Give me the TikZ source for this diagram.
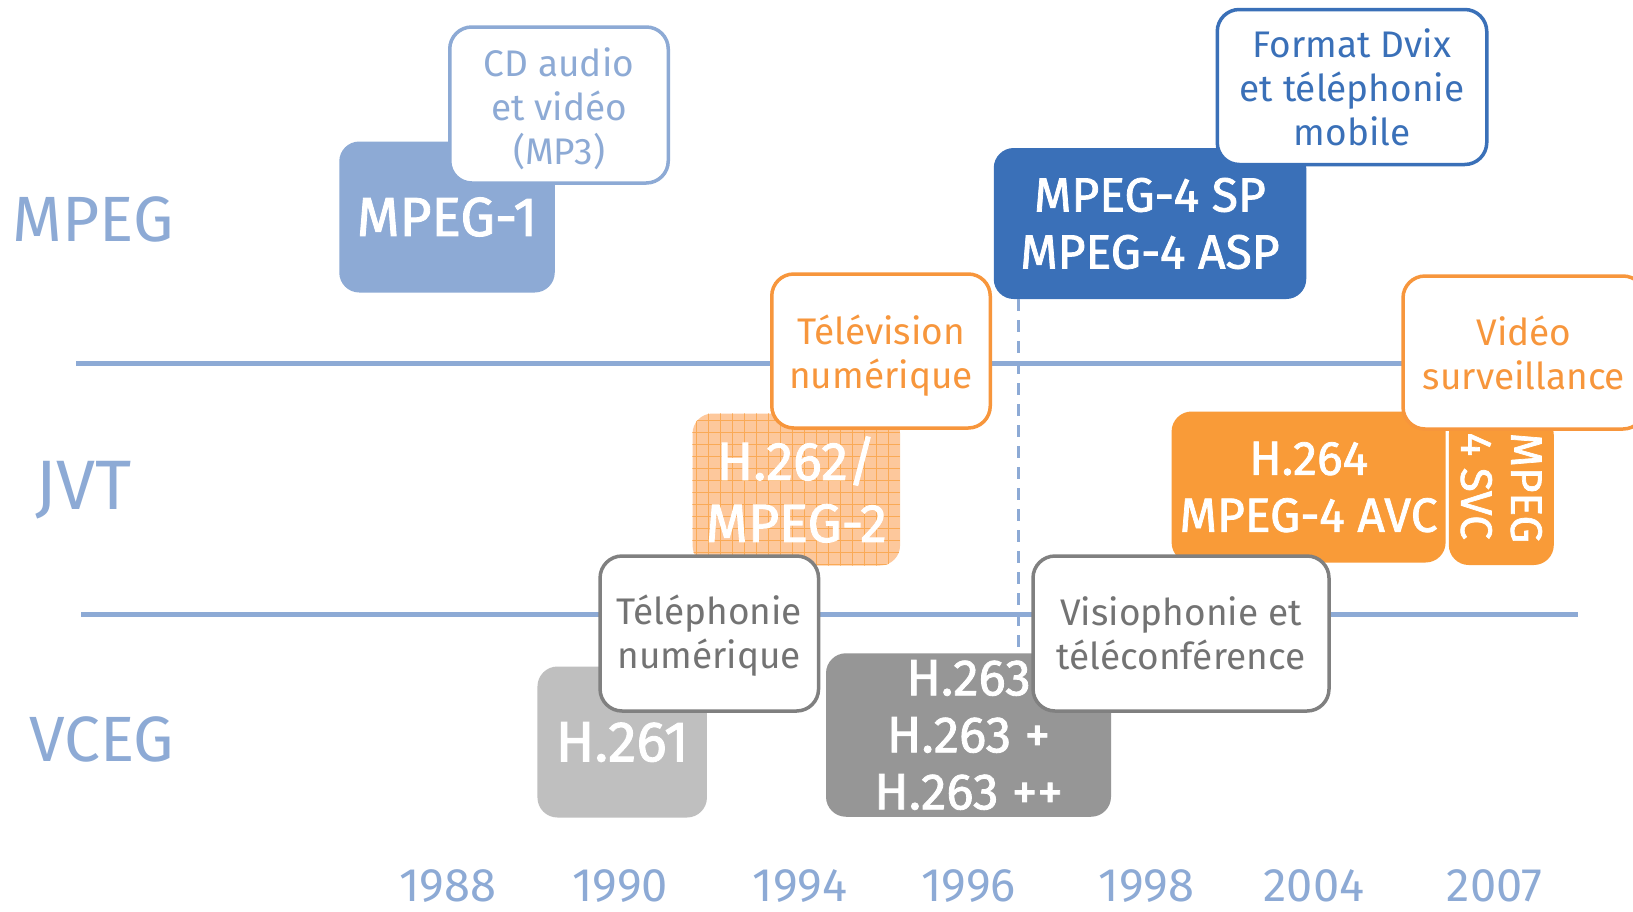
\documentclass[tikz,border=0pt]{standalone}
\usepackage{fontspec}
\setmainfont{Fira Sans}
\newfontfamily\boxfont[FakeBold=1.6]{Fira Sans}
\definecolor{lblue}{HTML}{8DAAD5}
\definecolor{dblue}{HTML}{3A70B8}
\definecolor{orng}{HTML}{F99B38}
\definecolor{orngline}{HTML}{F7963C}
\definecolor{orngpale}{HTML}{FDC89C}
\definecolor{gline}{HTML}{808080}
\definecolor{gtext}{HTML}{737373}
\definecolor{glight}{HTML}{BFBFBF}
\definecolor{gmid}{HTML}{969696}
% centred block of lines, lowered a little inside its frame
\newcommand\droppedlines[2]{\raisebox{-#1}[\height][\depth]{\begin{tabular}{@{}c@{}}#2\end{tabular}}}
\tikzset{
  stdbox/.style={rounded corners=20pt, inner sep=0pt, align=center, text=white},
  bsize/.style={font=\boxfont\fontsize{#1}{57}\selectfont},
  callout/.style={draw, line width=3.5pt, fill=white, rounded corners=22pt,
    inner sep=0pt, align=center, font=\fontsize{37}{44}\selectfont},
  axisline/.style={lblue, line width=5pt},
  rowlabel/.style={lblue, inner sep=0pt, font=\fontsize{64}{70}\selectfont},
  yearlabel/.style={lblue, inner sep=0pt, font=\fontsize{47}{50}\selectfont},
}
\begin{document}
\begin{tikzpicture}[x=1pt,y=-1pt]
\clip (0,0) rectangle (1633,911);
\fill[white] (0,0) rectangle (1633,911);

% separators between the three groups
\coordinate (l1a) at (76,363.5);
\coordinate (l1b) at (1420,363.5);
\coordinate (l2a) at (81,614.5);
\coordinate (l2b) at (1578,614.5);
\draw[axisline] (l1a) -- (l1b);
\draw[axisline] (l2a) -- (l2b);

% MPEG row
\node[stdbox, bsize=55, fill=lblue, minimum width=215.5pt, minimum height=151pt] (mpeg1) at (447,217) {MPEG-1};
\node[callout, draw=lblue, text=lblue, minimum width=218.5pt, minimum height=156pt] (cd) at (559,105) {\droppedlines{6.5pt}{CD audio\\et vidéo\\(MP3)}};

\node[stdbox, bsize=48, fill=dblue, minimum width=312.5pt, minimum height=151pt] (sp) at (1150,223.5) {MPEG-4 SP\\MPEG-4 ASP};
\coordinate (dashbot) at (1018.6,651);
\draw[lblue, line width=3pt, dash pattern=on 12pt off 9pt] (sp.south -| dashbot) -- (dashbot);
\node[callout, draw=dblue, text=dblue, minimum width=269.5pt, minimum height=155pt] (dvix) at (1352,87) {Format Dvix\\et téléphonie\\mobile};

% JVT row
\node[stdbox, fill=orngpale, minimum width=207.5pt, minimum height=152pt] (h262) at (796.3,489.5) {};
\begin{scope}
  \clip[rounded corners=20pt] (h262.south west) rectangle (h262.north east);
  \draw[orng!85, line width=0.9pt, step=12pt] (h262.south west) grid (h262.north east);
\end{scope}
\node[stdbox, font=\boxfont\fontsize{54}{62}\selectfont] (h262text) at (h262.center) {H.262/\\MPEG-2};
\node[callout, draw=orngline, text=orngline, minimum width=218.5pt, minimum height=154pt] (tv) at (881,351) {\droppedlines{6.5pt}{Télévision\\numérique}};

\node[stdbox, bsize=48, fill=orng, minimum width=274pt, minimum height=151pt] (h264) at (1308.6,487) {H.264\\MPEG-4 AVC};
\node[stdbox, fill=orng, minimum width=105pt, minimum height=150pt] (svcbox) at (1501.3,490) {};
\node[inner sep=0pt, text=white, align=left, rotate=-90, font=\boxfont\fontsize{44}{50}\selectfont] (svc) at (1501.3,488) {MPEG\\4 SVC};
\node[callout, draw=orngline, text=orngline, minimum width=242pt, minimum height=153pt] (vs) at (1524,352.5) {Vidéo\\surveillance};

% VCEG row
\node[stdbox, bsize=57, fill=glight, minimum width=169.5pt, minimum height=151pt] (h261) at (622.2,742) {H.261};
\node[stdbox, bsize=51, fill=gmid, minimum width=285pt, minimum height=163.5pt] (h263) at (968.5,735) {H.263\\H.263 +\\H.263 ++};
\node[callout, draw=gline, text=gtext, minimum width=218.5pt, minimum height=155pt] (tel) at (709.3,633.5) {\droppedlines{4.5pt}{Téléphonie\\numérique}};
\node[callout, draw=gline, text=gtext, minimum width=296pt, minimum height=155pt] (visio) at (1181,633.5) {Visiophonie et\\téléconférence};

% group names
\node[rowlabel, anchor=west] (lmpeg) at (12.5,219) {MPEG};
\node[rowlabel, anchor=west, font=\fontsize{70}{76}\selectfont] (ljvt) at (35,490) {JVT};
\node[rowlabel, anchor=west] (lvceg) at (29,739) {VCEG};

% years
\node[yearlabel] (y1988) at (448,886) {1988};
\node[yearlabel] (y1990) at (620,886) {1990};
\node[yearlabel] (y1994) at (800,886) {1994};
\node[yearlabel] (y1996) at (968.6,886) {1996};
\node[yearlabel] (y1998) at (1146.7,886) {1998};
\node[yearlabel] (y2004) at (1314,886) {2004};
\node[yearlabel] (y2007) at (1494.6,886) {2007};
\end{tikzpicture}
\end{document}
